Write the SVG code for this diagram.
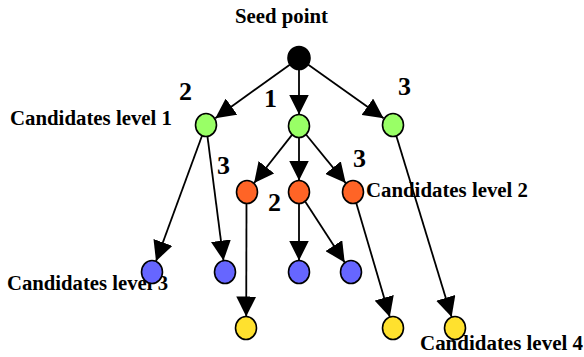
<svg xmlns="http://www.w3.org/2000/svg" width="584" height="357" viewBox="0 0 584 357">
<style>
.lbl{font-family:"Liberation Serif","Times New Roman",serif;font-weight:bold;font-size:20px;fill:#000}
.num{font-family:"Liberation Serif","Times New Roman",serif;font-weight:bold;font-size:26px;fill:#000}
.e{stroke:#000;stroke-width:1.8;fill:none;marker-end:url(#ah)}
.n{stroke:#000;stroke-width:1.6}
.seed{fill:#000}
.g{fill:#99FF66}
.o{fill:#FF6426}
.b{fill:#6666FF}
.y{fill:#FFE12E}
</style>
<defs>
<marker id="ah" viewBox="0 0 20 20" refX="20" refY="10" markerWidth="20" markerHeight="20" markerUnits="userSpaceOnUse" orient="auto">
<path d="M0,0 L20,10 L0,20 z" fill="#000"/>
</marker>
</defs>
<g id="labels">
<text class="lbl" x="235" y="23" textLength="93" lengthAdjust="spacingAndGlyphs">Seed point</text>
<text class="lbl" x="10" y="125" textLength="162" lengthAdjust="spacingAndGlyphs">Candidates level 1</text>
<text class="lbl" x="366" y="197" textLength="162" lengthAdjust="spacingAndGlyphs">Candidates level 2</text>
<text class="lbl" x="7" y="290" textLength="161" lengthAdjust="spacingAndGlyphs">Candidates level 3</text>
<text class="lbl" x="420" y="350" textLength="163" lengthAdjust="spacingAndGlyphs">Candidates level 4</text>
<text class="num" x="179" y="100">2</text>
<text class="num" x="264" y="107">1</text>
<text class="num" x="398" y="95">3</text>
<text class="num" x="217" y="174">3</text>
<text class="num" x="268" y="211">2</text>
<text class="num" x="353" y="167">3</text>
</g>
<g id="connectors">
<line class="e" x1="290.1" y1="64.4" x2="215.3" y2="118.3"/>
<line class="e" x1="299" y1="69.5" x2="299" y2="114.5"/>
<line class="e" x1="308" y1="64.4" x2="383.6" y2="118.3"/>
<line class="e" x1="202.2" y1="135.3" x2="156" y2="261.2"/>
<line class="e" x1="207.4" y1="135.9" x2="223.5" y2="260.6"/>
<line class="e" x1="292.2" y1="134.6" x2="254.1" y2="183"/>
<line class="e" x1="299" y1="137.5" x2="299" y2="180.5"/>
<line class="e" x1="306" y1="134.5" x2="345.7" y2="183.1"/>
<line class="e" x1="396.2" y1="135.5" x2="451.6" y2="317"/>
<line class="e" x1="246.5" y1="203.5" x2="246.2" y2="316.5"/>
<line class="e" x1="299" y1="203.5" x2="299" y2="260.5"/>
<line class="e" x1="305" y1="201.2" x2="344.7" y2="262.4"/>
<line class="e" x1="356.1" y1="202.5" x2="389.8" y2="317"/>
</g>
<g id="seed"><ellipse class="n seed" cx="299" cy="58" rx="11" ry="11.5"/></g>
<g id="l1a"><ellipse class="n g" cx="206" cy="125" rx="10.5" ry="11.5"/></g>
<g id="l1b"><ellipse class="n g" cx="299" cy="126" rx="10.5" ry="11.5"/></g>
<g id="l1c"><ellipse class="n g" cx="393" cy="125" rx="10.5" ry="11.5"/></g>
<g id="l2a"><ellipse class="n o" cx="247" cy="192" rx="10.5" ry="11.5"/></g>
<g id="l2b"><ellipse class="n o" cx="299" cy="192" rx="10.5" ry="11.5"/></g>
<g id="l2c"><ellipse class="n o" cx="353" cy="192" rx="10.5" ry="11.5"/></g>
<g id="l3a"><ellipse class="n b" cx="152" cy="272" rx="10.5" ry="11.5"/></g>
<g id="l3b"><ellipse class="n b" cx="225" cy="272" rx="10.5" ry="11.5"/></g>
<g id="l3c"><ellipse class="n b" cx="299" cy="272" rx="10.5" ry="11.5"/></g>
<g id="l3d"><ellipse class="n b" cx="351" cy="272" rx="10.5" ry="11.5"/></g>
<g id="l4a"><ellipse class="n y" cx="246" cy="328" rx="10.5" ry="11.5"/></g>
<g id="l4b"><ellipse class="n y" cx="393" cy="328" rx="10.5" ry="11.5"/></g>
<g id="l4c"><ellipse class="n y" cx="455" cy="328" rx="10.5" ry="11.5"/></g>
</svg>
